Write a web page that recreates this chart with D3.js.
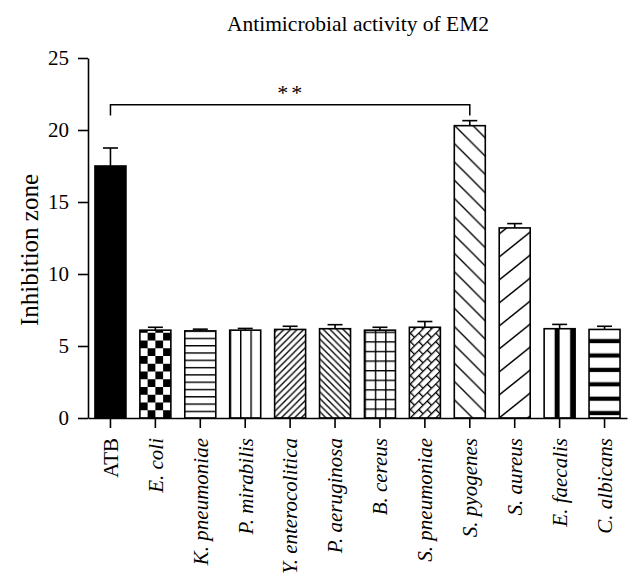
<!DOCTYPE html>
<html>
<head>
<meta charset="utf-8">
<script src="https://cdn.jsdelivr.net/npm/d3@7"></script>
<style>
  html, body { margin: 0; padding: 0; background: #fff; }
  svg { display: block; }
  text { font-family: "Liberation Serif", "Times New Roman", serif; fill: #000; }
</style>
</head>
<body>
<script>
// ---- data ----
const categories = ["ATB", "E. coli", "K. pneumoniae", "P. mirabilis", "Y. enterocolitica",
  "P. aeruginosa", "B. cereus", "S. pneumoniae", "S. pyogenes", "S. aureus", "E. faecalis", "C. albicans"];
const italicLabels = [false, true, true, true, true, true, true, true, true, true, true, true];
const values = [17.5, 6.1, 6.05, 6.1, 6.15, 6.2, 6.1, 6.3, 20.3, 13.2, 6.2, 6.15];
const errors = [1.25, 0.2, 0.12, 0.12, 0.22, 0.28, 0.2, 0.4, 0.35, 0.3, 0.3, 0.22];
const yTicks = [0, 5, 10, 15, 20, 25];
const titleText = "Antimicrobial activity of EM2";
const yLabel = "Inhibition zone";
const significance = { from: "ATB", to: "S. pyogenes", level: 21.75, leg: 21.0, label: "**" };

// ---- layout ----
const W = 642, H = 587;
const xLeft = 88, xRight = 627, yTop = 58, yBottom = 418;

const svg = d3.select("body").append("svg").attr("width", W).attr("height", H);

const x = d3.scaleBand().domain(categories).range([xLeft, xRight]).paddingInner(0.31).paddingOuter(0.155);
const y = d3.scaleLinear().domain([0, 25]).range([yBottom, yTop]);

const bw = x.bandwidth();
const defs = svg.append("defs");
const INK = "#000";

function mkPattern(id, bx, w, h, draw) {
  const p = defs.append("pattern").attr("id", id)
    .attr("patternUnits", "userSpaceOnUse")
    .attr("x", bx).attr("y", yBottom)
    .attr("width", w).attr("height", h);
  p.append("rect").attr("width", w).attr("height", h).attr("fill", "#fff");
  draw(p, w, h);
  return "url(#" + id + ")";
}
function diag(p, w, h, up, sw) {
  const d = up
    ? `M${-w},${2*h} L${2*w},${-h}`
    : `M${-w},${-h} L${2*w},${2*h}`;
  p.append("path").attr("d", d).attr("stroke", INK).attr("stroke-width", sw).attr("fill", "none");
  if (up) {
    p.append("path").attr("d", `M${-w},${h} L${w},${-h}`).attr("stroke", INK).attr("stroke-width", sw);
    p.append("path").attr("d", `M0,${2*h} L${2*w},0`).attr("stroke", INK).attr("stroke-width", sw);
  } else {
    p.append("path").attr("d", `M${-w},0 L${w},${2*h}`).attr("stroke", INK).attr("stroke-width", sw);
    p.append("path").attr("d", `M0,${-h} L${2*w},${h}`).attr("stroke", INK).attr("stroke-width", sw);
  }
}

const fillMakers = [
  (id, bx) => INK,
  (id, bx) => mkPattern(id, bx, bw / 2, bw / 2, (p, w, h) => {
    p.append("rect").attr("width", w / 2).attr("height", h / 2).attr("fill", INK);
    p.append("rect").attr("x", w / 2).attr("y", h / 2).attr("width", w / 2).attr("height", h / 2).attr("fill", INK);
  }),
  (id, bx) => mkPattern(id, bx, bw, 7.3, (p, w, h) => {
    p.append("rect").attr("y", 0).attr("width", w).attr("height", 1.4).attr("fill", INK);
  }),
  (id, bx) => mkPattern(id, bx, bw / 3, 10, (p, w, h) => {
    p.append("rect").attr("x", 0).attr("width", 1.4).attr("height", h).attr("fill", INK);
  }),
  (id, bx) => mkPattern(id, bx, 6.6, 6.6, (p, w, h) => diag(p, w, h, true, 1.3)),
  (id, bx) => mkPattern(id, bx, 6.6, 6.6, (p, w, h) => diag(p, w, h, false, 1.3)),
  (id, bx) => mkPattern(id, bx, bw / 3, 9.6, (p, w, h) => {
    p.append("rect").attr("x", 0).attr("width", 1.4).attr("height", h).attr("fill", INK);
    p.append("rect").attr("y", 0).attr("width", w).attr("height", 1.4).attr("fill", INK);
  }),
  (id, bx) => {
    const p = defs.append("pattern").attr("id", id)
      .attr("patternUnits", "userSpaceOnUse")
      .attr("width", 12).attr("height", 12)
      .attr("patternTransform", `translate(${bx},${yBottom}) rotate(-45)`);
    p.append("rect").attr("width", 12).attr("height", 12).attr("fill", "#fff");
    p.append("rect").attr("y", 0).attr("width", 12).attr("height", 1.3).attr("fill", INK);
    p.append("rect").attr("y", 6).attr("width", 12).attr("height", 1.3).attr("fill", INK);
    p.append("rect").attr("x", 0).attr("y", 0).attr("width", 1.3).attr("height", 6).attr("fill", INK);
    p.append("rect").attr("x", 6).attr("y", 6).attr("width", 1.3).attr("height", 6).attr("fill", INK);
    return "url(#" + id + ")";
  },
  (id, bx) => mkPattern(id, bx, 18.3, 18.3, (p, w, h) => diag(p, w, h, false, 1.4)),
  (id, bx) => mkPattern(id, bx, 28.5, 23, (p, w, h) => diag(p, w, h, true, 1.4)),
  (id, bx) => mkPattern(id, bx, bw / 2, 10, (p, w, h) => {
    p.append("rect").attr("x", w - 5).attr("width", 5).attr("height", h).attr("fill", INK);
  }),
  (id, bx) => mkPattern(id, bx, bw, 14.4, (p, w, h) => {
    p.append("rect").attr("y", h - 7).attr("width", w).attr("height", 4.2).attr("fill", INK);
  })
];

// ---- bars ----
const g = svg.append("g");
g.selectAll("rect.bar").data(categories).join("rect")
  .attr("class", "bar")
  .attr("x", d => x(d))
  .attr("y", (d, i) => y(values[i]))
  .attr("width", bw)
  .attr("height", (d, i) => y(0) - y(values[i]))
  .attr("fill", (d, i) => fillMakers[i]("pat" + i, x(d)))
  .attr("stroke", INK)
  .attr("stroke-width", 1.6);

// ---- error bars (upper only) ----
const cap = 15;
const eg = g.selectAll("g.err").data(categories).join("g").attr("class", "err");
eg.append("line")
  .attr("x1", d => x(d) + bw / 2).attr("x2", d => x(d) + bw / 2)
  .attr("y1", (d, i) => y(values[i])).attr("y2", (d, i) => y(values[i] + errors[i]))
  .attr("stroke", INK).attr("stroke-width", 1.6);
eg.append("line")
  .attr("x1", d => x(d) + bw / 2 - cap / 2).attr("x2", d => x(d) + bw / 2 + cap / 2)
  .attr("y1", (d, i) => y(values[i] + errors[i])).attr("y2", (d, i) => y(values[i] + errors[i]))
  .attr("stroke", INK).attr("stroke-width", 1.6);

// ---- axes ----
const yAxis = svg.append("g").attr("transform", `translate(${xLeft},0)`)
  .call(d3.axisLeft(y).tickValues(yTicks).tickSize(10).tickSizeOuter(0).tickPadding(9));
yAxis.select(".domain").attr("stroke", INK).attr("stroke-width", 1.6);
yAxis.selectAll(".tick line").attr("stroke", INK).attr("stroke-width", 1.6);
yAxis.selectAll(".tick text").attr("font-size", 21).attr("font-family", "Liberation Serif").attr("fill", INK);

const xAxis = svg.append("g").attr("transform", `translate(0,${yBottom})`)
  .call(d3.axisBottom(x).tickSize(10).tickSizeOuter(0));
xAxis.select(".domain").attr("stroke", INK).attr("stroke-width", 1.6);
xAxis.selectAll(".tick line").attr("stroke", INK).attr("stroke-width", 1.6);
xAxis.selectAll(".tick text")
  .attr("font-size", 21).attr("font-family", "Liberation Serif").attr("fill", INK)
  .attr("font-style", (d, i) => italicLabels[i] ? "italic" : "normal")
  .attr("text-anchor", "end")
  .attr("transform", "rotate(-90)")
  .attr("x", -20).attr("y", 0).attr("dy", "0.35em");

// ---- labels ----
svg.append("text").attr("x", 358).attr("y", 31).attr("text-anchor", "middle")
  .attr("font-size", 21.5).text(titleText);

svg.append("text").attr("transform", `translate(38,250) rotate(-90)`)
  .attr("text-anchor", "middle").attr("font-size", 25).text(yLabel);

// ---- significance bracket ----
const bx1 = x(significance.from) + bw / 2, bx2 = x(significance.to) + bw / 2;
svg.append("path")
  .attr("d", `M${bx1},${y(significance.leg)} V${y(significance.level)} H${bx2} V${y(significance.leg)}`)
  .attr("fill", "none").attr("stroke", INK).attr("stroke-width", 1.5);
svg.append("text").attr("x", (bx1 + bx2) / 2 + 1).attr("y", y(significance.level) - 5)
  .attr("text-anchor", "middle").attr("font-size", 22).attr("letter-spacing", 3).text(significance.label);
</script>
</body>
</html>
